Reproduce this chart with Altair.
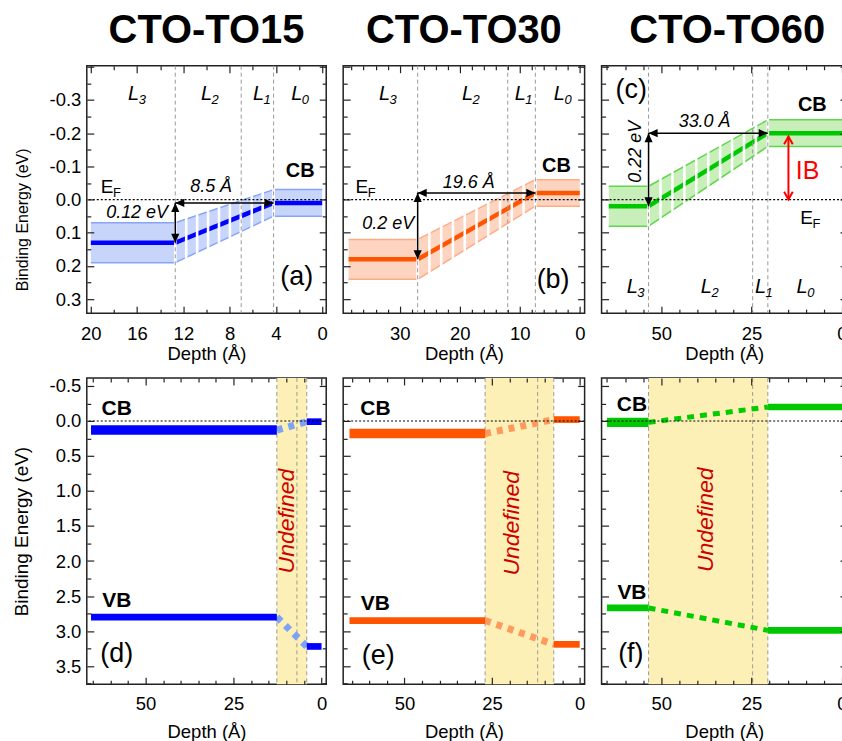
import altair as alt
import numpy as np
import pandas as pd

FONT = "Liberation Sans"

samples = ["CTO-TO15", "CTO-TO30", "CTO-TO60"]
top_tags = ["(a)", "(b)", "(c)"]
bottom_tags = ["(d)", "(e)", "(f)"]
line_colors = ["#0000ff", "#ff5500", "#00c800"]
fill_colors = ["#c7d5fb", "#fdd4c0", "#c8efba"]
edge_colors = ["#86a5f7", "#ffab85", "#5fd64e"]
dot_colors = ["#7fa3f4", "#ff9a5e", "#00cc00"]

# interfaces (Å): L3|L2, L2|L1, L1|L0
boundaries = [[12.7, 7.0, 4.2], [27.0, 12.0, 7.4], [53.5, 24.7, 20.5]]
layer_names = ["3", "2", "1", "0"]

# top row (band centres / half widths, eV)
l3_center = [0.13, 0.18, 0.02]
l3_half = [0.06, 0.06, 0.06]
cb_center = [0.01, -0.02, -0.20]
cb_half = [0.04, 0.04, 0.04]
l3_start = [20.0, 38.5, 64.5]
cb_stop = [0.0, 0.0, -1.4]
offset_labels = ["0.12 eV", "0.2 eV", "0.22 eV"]
width_labels = ["8.5 Å", "19.6 Å", "33.0 Å"]
stripe_counts = [9, 10, 10]
ib_depth = 14.8

# bottom row (eV)
cb_bulk = [0.13, 0.18, 0.02]
cb_surface = [0.01, -0.02, -0.20]
vb_bulk = [2.80, 2.85, 2.67]
vb_surface = [3.22, 3.19, 2.99]
bulk_start = [65.5, 65.7, 65.0]
surface_stop = [0.0, 0.0, -1.4]

# axes
top_x_domains = [[20.35, -0.35], [39.4, -0.8], [66.5, -1.4]]
bottom_x_domains = [[66.7, -1.33], [67.5, -1.4], [66.5, -1.4]]
top_y_domain = [-0.403, 0.342]
bottom_y_domain = [-0.614, 3.76]
top_x_major = [[20, 16, 12, 8, 4, 0], [30, 20, 10, 0], [50, 25, 0]]
top_x_major_step = [4, 10, 25]
top_x_minor_step = [2, 2, 5]
bottom_x_major = [50, 25, 0]
top_y_major = [-0.3, -0.2, -0.1, 0.0, 0.1, 0.2, 0.3]
bottom_y_major = [-0.5, 0.0, 0.5, 1.0, 1.5, 2.0, 2.5, 3.0, 3.5]

# annotation anchors (data units)
top_layer_label_x = [[16.3, 10.0, 5.5, 2.2], [32.5, 18.7, 9.9, 3.4], [58.0, 37.5, 22.5, 11.0]]
top_layer_label_y = [-0.317, -0.317, 0.263]
ef_label_pos = [[18.6, -0.037], [36.3, -0.037], [9.8, 0.057]]
cb_label_top = [[1.9, -0.087], [3.9, -0.1], [8.2, -0.284]]
tag_top_pos = [[2.2, 0.233], [4.45, 0.243], [58.3, -0.33]]
offset_label_pos = [[16.0, 0.042], [31.9, 0.073], [57.0, -0.144]]
offset_label_angle = [0, 0, 270]
width_label_pos = [[9.6, -0.037], [18.5, -0.05], [38.0, -0.234]]
ib_label_pos = [9.5, -0.087]
cb_label_bottom = [[58.2, -0.165], [58.3, -0.165], [58.1, -0.23]]
vb_label_bottom = [[58.2, 2.57], [58.3, 2.62], [58.1, 2.46]]
tag_bottom_pos = [[58.2, 3.33], [57.5, 3.36], [58.4, 3.33]]
undefined_pos = [[9.9, 1.43], [19.2, 1.46], [37.6, 1.41]]

TOP_W = [240, 242, 246]
TOP_H = 248
BOT_W = [240, 242, 246]
BOT_H = 307

RIGHT = "M0,0L-1,-0.45L-1,0.45Z"
LEFT = "M0,0L1,-0.45L1,0.45Z"
UP = "M0,0L-0.45,1L0.45,1Z"
DOWN = "M0,0L-0.45,-1L0.45,-1Z"
OPEN_UP = "M-0.5,0.9L0,0L0.5,0.9"
OPEN_DOWN = "M-0.5,-0.9L0,0L0.5,-0.9"

LABEL_EXPR = "replace(format(datum.value, '.1f'), '\u2212', '-')"


def tick_values(dom, step):
    lo, hi = min(dom), max(dom)
    k0 = int(np.ceil(lo / step - 1e-9))
    k1 = int(np.floor(hi / step + 1e-9))
    return [round(k * step, 4) for k in range(k0, k1 + 1)]


def major_test(step):
    return f"abs(datum.value/{step} - round(datum.value/{step})) < 0.001"


def scales(xdom, ydom):
    xs = alt.Scale(domain=xdom, nice=False, zero=False)
    ys = alt.Scale(domain=ydom, nice=False, zero=False, reverse=True)

    def X(f):
        return alt.X(f, type="quantitative", scale=xs, axis=None)

    def Y(f):
        return alt.Y(f, type="quantitative", scale=ys, axis=None)

    return xs, ys, X, Y


def frame_layers(xs, ys, xdom, ydom, W, H, xmajor, xmaj_step, xmin_step,
                 ymajor, ymaj_step, ymin_step, show_y, ytitle_size,
                 xlab_pad, xtitle_pad, ytitle_x, ytitle_y):
    df = pd.DataFrame({"x": [(xdom[0] + xdom[1]) / 2], "y": [(ydom[0] + ydom[1]) / 2]})
    base = alt.Chart(df).mark_point(opacity=0)
    xall = tick_values(xdom, xmin_step)
    yall = tick_values(ydom, ymin_step)
    xsize = {"condition": {"test": major_test(xmaj_step), "value": 7}, "value": 4}
    ysize = {"condition": {"test": major_test(ymaj_step), "value": 7}, "value": 4}
    if show_y:
        yaxis = alt.Axis(orient="left", values=ymajor, ticks=False, tickSize=0,
                         labelPadding=6, labelExpr=LABEL_EXPR,
                         title="Binding Energy (eV)", titleFontSize=ytitle_size,
                         titleX=ytitle_x, titleY=ytitle_y, titleAngle=270,
                         titleAlign="center", titleBaseline="bottom")
    else:
        yaxis = None
    lab = base.encode(
        x=alt.X("x:Q", scale=xs, axis=alt.Axis(orient="bottom", values=xmajor, ticks=False,
                                                tickSize=0, labelPadding=xlab_pad, format="d",
                                                title="Depth (Å)", titlePadding=xtitle_pad)),
        y=alt.Y("y:Q", scale=ys, axis=yaxis),
    )
    low = base.encode(
        x=alt.X("x:Q", scale=xs, axis=alt.Axis(orient="top", offset=-H, values=xall, labels=False,
                                                tickSize=xsize, title=None, zindex=2)),
        y=alt.Y("y:Q", scale=ys, axis=alt.Axis(orient="right", offset=-W, values=yall, labels=False,
                                                tickSize=ysize, title=None, zindex=2)),
    )
    high = base.encode(
        x=alt.X("x:Q", scale=xs, axis=alt.Axis(orient="bottom", offset=-H, values=xall, labels=False,
                                                tickSize=xsize, title=None, zindex=2)),
        y=alt.Y("y:Q", scale=ys, axis=alt.Axis(orient="left", offset=-W, values=yall, labels=False,
                                                tickSize=ysize, title=None, zindex=2)),
    )
    return [lab, low, high]


def text_layer(rows, X, Y, **props):
    df = pd.DataFrame(rows, columns=["x", "y", "t"])
    return alt.Chart(df).mark_text(font=FONT, **props).encode(x=X("x"), y=Y("y"), text="t:N")


def sub_label(x, y, main, sub, X, Y, size, subsize, italic, dx, dy):
    style = "italic" if italic else "normal"
    return [
        text_layer([[x, y, main]], X, Y, fontSize=size, fontStyle=style, align="center",
                   baseline="middle", color="black"),
        text_layer([[x, y, sub]], X, Y, fontSize=subsize, fontStyle=style, align="left",
                   baseline="middle", color="black", dx=dx, dy=dy),
    ]


def ef_rule(Y):
    return alt.Chart(pd.DataFrame({"y": [0.0]})).mark_rule(
        color="black", strokeDash=[2, 2], strokeWidth=1.2).encode(y=Y("y"))


def top_panel(i):
    W, H = TOP_W[i], TOP_H
    xdom, ydom = top_x_domains[i], top_y_domain
    xs, ys, X, Y = scales(xdom, ydom)
    b = boundaries[i]
    l3c, l3h, cbc, cbh = l3_center[i], l3_half[i], cb_center[i], cb_half[i]
    layers = frame_layers(xs, ys, xdom, ydom, W, H, top_x_major[i], top_x_major_step[i],
                          top_x_minor_step[i], top_y_major, 0.1, 0.05, i == 0, 16,
                          11, 2, -56, 154)

    bands = pd.DataFrame({"x": [l3_start[i], b[2]], "x2": [b[0], cb_stop[i]],
                          "lo": [l3c - l3h, cbc - cbh], "hi": [l3c + l3h, cbc + cbh],
                          "c": [l3c, cbc]})
    layers.append(alt.Chart(bands).mark_rect(color=fill_colors[i]).encode(
        x=X("x"), x2="x2", y=Y("lo"), y2="hi"))
    for f in ["lo", "hi"]:
        layers.append(alt.Chart(bands).mark_rule(color=edge_colors[i], strokeWidth=1.5).encode(
            x=X("x"), x2="x2", y=Y(f)))
    layers.append(alt.Chart(bands).mark_rule(color=line_colors[i], strokeWidth=4.5).encode(
        x=X("x"), x2="x2", y=Y("c")))

    slope = pd.DataFrame({"x": [b[0], b[2]], "lo": [l3c - l3h, cbc - cbh],
                          "hi": [l3c + l3h, cbc + cbh], "c": [l3c, cbc]})
    layers.append(alt.Chart(slope).mark_area(color=fill_colors[i], opacity=1).encode(
        x=X("x"), y=Y("lo"), y2="hi"))
    for f in ["lo", "hi"]:
        layers.append(alt.Chart(slope).mark_line(color=edge_colors[i], strokeWidth=1.5).encode(
            x=X("x"), y=Y(f)))
    layers.append(alt.Chart(slope).mark_line(color=line_colors[i], strokeWidth=4.5).encode(
        x=X("x"), y=Y("c")))

    n = stripe_counts[i]
    stripes = pd.DataFrame({
        "x": [b[0] + k * (b[2] - b[0]) / n for k in range(n + 1)],
        "y": min(l3c - l3h, cbc - cbh) - 0.012,
        "y2": max(l3c + l3h, cbc + cbh) + 0.012,
    })
    layers.append(alt.Chart(stripes).mark_rule(color="white", strokeWidth=2.6).encode(
        x=X("x"), y=Y("y"), y2="y2"))

    layers.append(alt.Chart(pd.DataFrame({"x": b})).mark_rule(
        color="#9a9a9a", strokeDash=[4, 3], strokeWidth=1).encode(x=X("x")))
    layers.append(ef_rule(Y))

    # arrows
    layers.append(alt.Chart(pd.DataFrame({"x": [b[0]], "x2": [b[2]], "y": [cbc]})).mark_rule(
        color="black", strokeWidth=1.5).encode(x=X("x"), x2="x2", y=Y("y")))
    layers.append(alt.Chart(pd.DataFrame({"x": [b[0]], "y": [cbc], "y2": [l3c]})).mark_rule(
        color="black", strokeWidth=1.5).encode(x=X("x"), y=Y("y"), y2="y2"))
    heads = pd.DataFrame({"x": [b[0], b[2], b[0], b[0]], "y": [cbc, cbc, cbc, l3c],
                          "s": [LEFT, RIGHT, UP, DOWN]})
    layers.append(alt.Chart(heads).mark_point(filled=True, color="black", opacity=1, size=330,
                                              strokeWidth=0).encode(
        x=X("x"), y=Y("y"), shape=alt.Shape("s:N", scale=None)))

    # texts
    for k, name in enumerate(layer_names):
        layers += sub_label(top_layer_label_x[i][k], top_layer_label_y[i], "L", name, X, Y,
                            20, 13, True, 5, 6)
    ex, ey = ef_label_pos[i]
    layers += sub_label(ex, ey, "E", "F", X, Y, 19, 13, False, 6, 6)
    layers.append(text_layer([cb_label_top[i] + ["CB"]], X, Y, fontSize=20, fontWeight="bold",
                             align="center", baseline="middle", color="black"))
    layers.append(text_layer([tag_top_pos[i] + [top_tags[i]]], X, Y, fontSize=27,
                             align="center", baseline="middle", color="black"))
    layers.append(text_layer([offset_label_pos[i] + [offset_labels[i]]], X, Y, fontSize=18,
                             fontStyle="italic", align="center", baseline="middle",
                             color="black", angle=offset_label_angle[i]))
    layers.append(text_layer([width_label_pos[i] + [width_labels[i]]], X, Y, fontSize=18,
                             fontStyle="italic", align="center", baseline="middle",
                             color="black"))
    if i == 2:
        layers.append(alt.Chart(pd.DataFrame({"x": [ib_depth], "y": [0.0], "y2": [cbc + 0.01]}))
                      .mark_rule(color="#ff0000", strokeWidth=2).encode(
                          x=X("x"), y=Y("y"), y2="y2"))
        ibh = pd.DataFrame({"x": [ib_depth, ib_depth], "y": [cbc + 0.01, 0.0],
                            "s": [OPEN_UP, OPEN_DOWN]})
        layers.append(alt.Chart(ibh).mark_point(filled=False, color="#ff0000", opacity=1,
                                                size=300, strokeWidth=2).encode(
            x=X("x"), y=Y("y"), shape=alt.Shape("s:N", scale=None)))
        layers.append(text_layer([ib_label_pos + ["IB"]], X, Y, fontSize=25, align="center",
                                 baseline="middle", color="#ff0000"))

    title = alt.TitleParams(samples[i], fontSize=40, fontWeight="bold", font=FONT,
                            anchor="middle", offset=14, color="black",
                            dx=3 if i == 2 else 0)
    return alt.layer(*layers).properties(width=W, height=H, title=title).resolve_axis(
        x="independent", y="independent")


def bottom_panel(i):
    W, H = BOT_W[i], BOT_H
    xdom, ydom = bottom_x_domains[i], bottom_y_domain
    xs, ys, X, Y = scales(xdom, ydom)
    b = boundaries[i]
    layers = frame_layers(xs, ys, xdom, ydom, W, H, bottom_x_major, 25, 5,
                          bottom_y_major, 0.5, 0.25, i == 0, 19, 10, 10, -55, H / 2)
    layers.append(alt.Chart(pd.DataFrame({"x": [b[0]], "x2": [b[2]], "y": [ydom[0]],
                                          "y2": [ydom[1]]})).mark_rect(color="#fdf0b6").encode(
        x=X("x"), x2="x2", y=Y("y"), y2="y2"))
    layers.append(alt.Chart(pd.DataFrame({"x": b})).mark_rule(
        color="#9a9a9a", strokeDash=[4, 3], strokeWidth=1).encode(x=X("x")))
    dots = pd.DataFrame({"x": [b[0], b[0]], "x2": [b[2], b[2]],
                         "y": [cb_bulk[i], vb_bulk[i]], "y2": [cb_surface[i], vb_surface[i]]})
    dw = 5 if i == 2 else 7
    dash = [7, 6] if i == 2 else [6, 6]
    layers.append(alt.Chart(dots).mark_rule(color=dot_colors[i], strokeWidth=dw,
                                            strokeDash=dash).encode(
        x=X("x"), x2="x2", y=Y("y"), y2="y2"))
    segs = pd.DataFrame({"x": [bulk_start[i], b[2], bulk_start[i], b[2]],
                         "x2": [b[0], surface_stop[i], b[0], surface_stop[i]],
                         "y": [cb_bulk[i], cb_surface[i], vb_bulk[i], vb_surface[i]],
                         "w": [9.5, 6.7, 6.7, 6.7]})
    layers.append(alt.Chart(segs).mark_rule(color=line_colors[i]).encode(
        x=X("x"), x2="x2", y=Y("y"), strokeWidth=alt.StrokeWidth("w:Q", scale=None)))
    layers.append(ef_rule(Y))
    layers.append(text_layer([cb_label_bottom[i] + ["CB"], vb_label_bottom[i] + ["VB"]], X, Y,
                             fontSize=21, fontWeight="bold", align="center",
                             baseline="middle", color="black"))
    layers.append(text_layer([tag_bottom_pos[i] + [bottom_tags[i]]], X, Y, fontSize=27,
                             align="center", baseline="middle", color="black"))
    layers.append(text_layer([undefined_pos[i] + ["Undefined"]], X, Y, fontSize=23,
                             fontStyle="italic", align="center", baseline="middle",
                             color="#cc0000", angle=270))
    return alt.layer(*layers).properties(width=W, height=H).resolve_axis(
        x="independent", y="independent")


panels = [top_panel(i) for i in range(3)] + [bottom_panel(i) for i in range(3)]
chart = alt.concat(*panels, columns=3, spacing={"row": 65, "column": 17},
                   bounds="flush", align="each").properties(
    padding={"left": 12, "top": 9, "right": -10, "bottom": 0}
).configure_view(stroke="#222222", strokeWidth=1.5).configure_axis(
    labelFont=FONT, titleFont=FONT, labelFontSize=18.5, titleFontSize=18.5,
    labelColor="black", titleColor="black", titleFontWeight="normal",
    tickColor="#222222", tickWidth=1.2, grid=False, domain=False,
).configure_text(font=FONT)

chart.save("out.html", embed_options={"renderer": "svg", "actions": False})
